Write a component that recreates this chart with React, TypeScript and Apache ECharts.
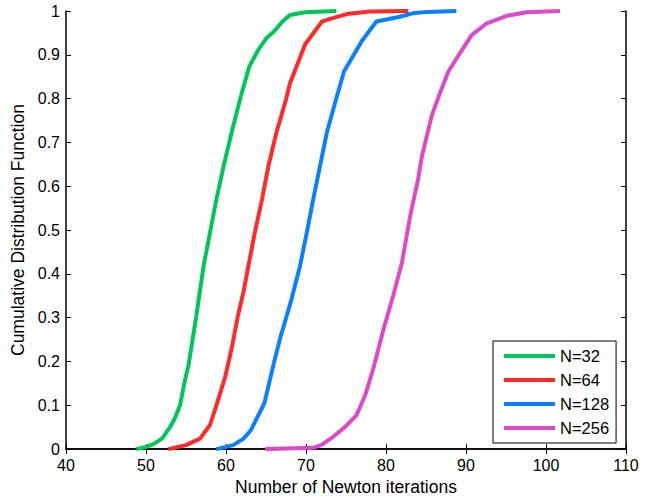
import React, { useEffect, useRef } from "react";
import * as echarts from "echarts";

const seriesNames = ["N=32", "N=64", "N=128", "N=256"];
const seriesColors = ["#00c65a", "#ff2a2a", "#0a7fff", "#dc4ac8"];

const n32: [number, number][] = [
  [48.8, 0], [50, 0.005], [51, 0.012], [52, 0.024], [53, 0.05], [53.6, 0.07], [54.25, 0.1],
  [54.9, 0.16], [55.3, 0.19], [56.3, 0.305], [57.2, 0.418], [58, 0.494], [58.8, 0.57],
  [59.7, 0.646], [60.7, 0.722], [61.75, 0.798], [62.9, 0.873], [64, 0.91], [65.1, 0.939],
  [66, 0.953], [67, 0.975], [68, 0.991], [69.9, 0.997], [73.8, 1.0],
];
const n64: [number, number][] = [
  [52.8, 0], [55, 0.009], [56.75, 0.024], [58, 0.055], [58.8, 0.1], [59.9, 0.165],
  [60.7, 0.229], [61.5, 0.305], [62.2, 0.36], [62.8, 0.418], [63.6, 0.494], [64.5, 0.57],
  [65.3, 0.646], [66.3, 0.722], [67.5, 0.798], [68, 0.835], [69.9, 0.924], [72, 0.976],
  [73, 0.982], [75.1, 0.993], [78, 0.999], [82.8, 1.0],
];
const n128: [number, number][] = [
  [58.8, 0], [60.9, 0.009], [62.2, 0.024], [63.1, 0.043], [64.8, 0.105], [65.9, 0.19],
  [66.75, 0.252], [67.6, 0.305], [68.2, 0.343], [69.25, 0.418], [70.1, 0.494], [70.9, 0.57],
  [71.75, 0.646], [72.6, 0.722], [73.75, 0.798], [74.75, 0.862], [77, 0.932], [78.8, 0.976],
  [81.75, 0.987], [83.4, 0.995], [85.1, 0.998], [88.8, 1.0],
];
const n256: [number, number][] = [
  [64.9, 0], [70.9, 0.003], [72, 0.01], [73.4, 0.028], [74.9, 0.051], [76.3, 0.077],
  [77.4, 0.123], [78.4, 0.183], [79.7, 0.274], [80.9, 0.35], [82, 0.426], [83, 0.53],
  [84, 0.615], [84.5, 0.669], [85.7, 0.76], [86.75, 0.813], [87.8, 0.862], [89.25, 0.904],
  [90.7, 0.945], [92.6, 0.972], [95.1, 0.989], [97.6, 0.997], [101.75, 1.0],
];
const allData = [n32, n64, n128, n256];

const xTitle = "Number of Newton iterations";
const yTitle = "Cumulative Distribution Function";

const FONT = "'Liberation Sans', Arial, Helvetica, sans-serif";

export default function App() {
  const ref = useRef<HTMLDivElement>(null);
  useEffect(() => {
    if (!ref.current) return;
    const chart = echarts.init(ref.current, undefined, { renderer: "svg" });
    const axisLine = { show: true, lineStyle: { color: "#000", width: 1.5 } };
    const tick = { show: true, inside: true, length: 5, lineStyle: { color: "#000", width: 1 } };
    chart.setOption({
      animation: false,
      backgroundColor: "#fff",
      textStyle: { fontFamily: FONT },
      grid: { left: 66, right: 34, top: 11, bottom: 50, containLabel: false },
      legend: {
        data: seriesNames,
        orient: "vertical",
        left: 493,
        top: 341,
        icon: "rect",
        itemWidth: 51,
        itemHeight: 4,
        itemGap: 6,
        padding: [6, 7, 6, 11],
        borderColor: "#000",
        borderWidth: 1,
        backgroundColor: "#fff",
        textStyle: { fontSize: 16.5, color: "#000", fontFamily: FONT, lineHeight: 18 },
      },
      xAxis: [
        {
          type: "value",
          min: 40,
          max: 110,
          interval: 10,
          position: "bottom",
          name: xTitle,
          nameLocation: "middle",
          nameGap: 27,
          nameTextStyle: { fontSize: 17.5, color: "#000", fontFamily: FONT, verticalAlign: "top" },
          axisLine,
          axisTick: tick,
          axisLabel: { fontSize: 16, color: "#000", margin: 8, fontFamily: FONT },
          splitLine: { show: false },
        },
        {
          type: "value",
          min: 40,
          max: 110,
          interval: 10,
          position: "top",
          axisLine,
          axisTick: tick,
          axisLabel: { show: false },
          splitLine: { show: false },
        },
      ],
      yAxis: [
        {
          type: "value",
          min: 0,
          max: 1,
          interval: 0.1,
          position: "left",
          name: yTitle,
          nameLocation: "middle",
          nameGap: 38,
          nameTextStyle: { fontSize: 17.5, color: "#000", fontFamily: FONT },
          axisLine,
          axisTick: tick,
          axisLabel: { fontSize: 16, color: "#000", margin: 6, fontFamily: FONT },
          splitLine: { show: false },
        },
        {
          type: "value",
          min: 0,
          max: 1,
          interval: 0.1,
          position: "right",
          axisLine,
          axisTick: tick,
          axisLabel: { show: false },
          splitLine: { show: false },
        },
      ],
      series: seriesNames.map((name, i) => ({
        name,
        type: "line",
        xAxisIndex: 0,
        yAxisIndex: 0,
        data: allData[i],
        showSymbol: false,
        symbol: "none",
        smooth: false,
        color: seriesColors[i],
        lineStyle: { color: seriesColors[i], width: 4 },
        z: 2 + i,
      })),
    });
    return () => chart.dispose();
  }, []);
  return (
    <div
      ref={ref}
      style={{ position: "absolute", left: 0, top: 0, width: 660, height: 501, background: "#fff" }}
    />
  );
}
